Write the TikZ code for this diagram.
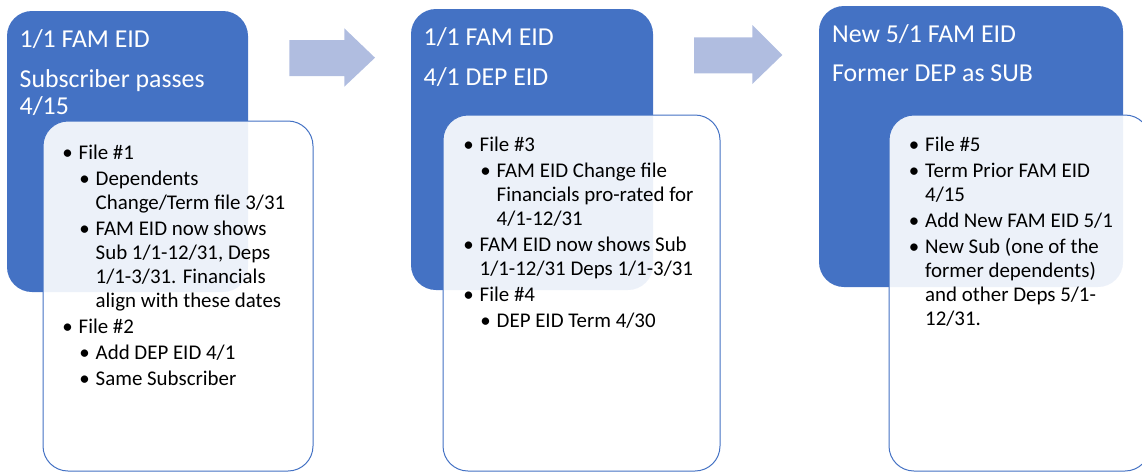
\documentclass[tikz,border=0pt]{standalone}
\usepackage{fontspec}
\setmainfont{Carlito}

\definecolor{accent}{RGB}{68,114,196}
\definecolor{arrowfill}{RGB}{176,189,224}

% text blocks: the parbox baseline is the baseline of its first line
\newcommand\headblock[1]{\parbox[t]{300pt}{\fontsize{25.8pt}{27pt}\selectfont\parskip=12.5pt\relax\raggedright #1}}
\newcommand\bodyblock[1]{\parbox[t]{260pt}{\fontsize{20.9pt}{24pt}\selectfont\parskip=2pt\relax\raggedright #1}}
% bullet levels
\newcommand\itemA[1]{{\leftskip=0pt\noindent\llap{\textbullet\hspace{6pt}}#1\par}}
\newcommand\itemB[1]{{\leftskip=17pt\noindent\llap{\textbullet\hspace{6pt}}#1\par}}

\tikzset{
  headbox/.style={rectangle, fill=accent, rounded corners=25pt, inner sep=0pt, outer sep=0pt, anchor=north west},
  notebox/.style={rectangle, draw=accent, line width=1pt, fill=white, fill opacity=0.9, rounded corners=25pt, inner sep=0pt, outer sep=0pt, anchor=north west},
  flowarrow/.style={fill=arrowfill},
  titletext/.style={anchor=base west, inner sep=0pt, text=white},
  bodytext/.style={anchor=base west, inner sep=0pt, text=black},
}

\begin{document}
\begin{tikzpicture}[x=1pt, y=-1pt]
\useasboundingbox (0,0) rectangle (1142,472);
\clip (0,0) rectangle (1142,472);

% blue header panels
\node[headbox, minimum width=241pt, minimum height=281pt] (h1) at (7,11) {};
\node[headbox, minimum width=242pt, minimum height=281pt] (h2) at (411,9) {};
\node[headbox, minimum width=304pt, minimum height=281pt] (h3) at (819,6) {};

% block arrows between the stages
\fill[flowarrow] (289.3,40) -- (344.3,40) -- (344.3,28.3) -- (375,57.7)
  -- (344.3,86.7) -- (344.3,76) -- (289.3,76) -- cycle;
\fill[flowarrow] (694,37.3) -- (752.3,37.3) -- (752.3,25) -- (782.3,55)
  -- (752.3,84) -- (752.3,73.3) -- (694,73.3) -- cycle;

% detail cards
\node[notebox, minimum width=270pt, minimum height=350pt] (n1) at (43,121) {};
\node[notebox, minimum width=277pt, minimum height=356pt] (n2) at (443,115) {};
\node[notebox, minimum width=261pt, minimum height=356pt] (n3) at (889,115) {};

% header titles
\node[titletext] (t1) at (19.5,47.7) {\headblock{1/1 FAM EID\par Subscriber passes\\4/15}};
\node[titletext] (t2) at (423.5,45.7) {\headblock{1/1 FAM EID\par 4/1 DEP EID}};
\node[titletext] (t3) at (832,42.3) {\headblock{New 5/1 FAM EID\par Former DEP as SUB}};

% card contents
\node[bodytext] (b1) at (78.5,159) {\bodyblock{%
  \itemA{File \#1}
  \itemB{Dependents\\Change/Term file 3/31}
  \itemB{FAM EID now shows\\Sub 1/1-12/31, Deps\\1/1-3/31. Financials\\align with these dates}
  \itemA{File \#2}
  \itemB{Add DEP EID 4/1}
  \itemB{Same Subscriber}}};

\node[bodytext] (b2) at (479.5,151.7) {\bodyblock{%
  \itemA{File \#3}
  \itemB{FAM EID Change file\\Financials pro-rated for\\4/1-12/31}
  \itemA{FAM EID now shows Sub\\1/1-12/31 Deps 1/1-3/31}
  \itemA{File \#4}
  \itemB{DEP EID Term 4/30}}};

\node[bodytext] (b3) at (925,151.7) {\bodyblock{%
  \itemA{File \#5}
  \itemA{Term Prior FAM EID\\4/15}
  \itemA{Add New FAM EID 5/1}
  \itemA{New Sub (one of the\\former dependents)\\and other Deps 5/1-\\12/31.}}};
\end{tikzpicture}
\end{document}
